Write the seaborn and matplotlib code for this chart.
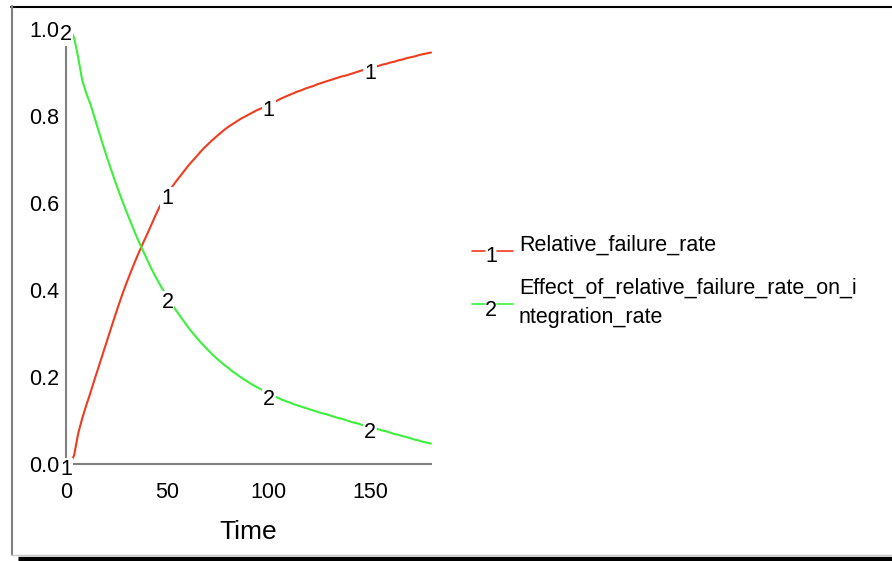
import numpy as np
import pandas as pd
import matplotlib
matplotlib.use("Agg")
import matplotlib.pyplot as plt
from matplotlib.lines import Line2D
import seaborn as sns

# Simulation output, saved every 2 time units
time = list(range(0, 181, 2))

relative_failure_rate = [
    0.000, 0.000, 0.020, 0.070, 0.105, 0.135, 0.163, 0.193, 0.222, 0.251,
    0.280, 0.309, 0.338, 0.366, 0.393, 0.418, 0.442, 0.465, 0.487, 0.508,
    0.528, 0.549, 0.570, 0.590, 0.607, 0.622, 0.635, 0.648, 0.660, 0.672,
    0.684, 0.695, 0.705, 0.716, 0.726, 0.735, 0.744, 0.752, 0.760, 0.768,
    0.775, 0.781, 0.787, 0.793, 0.798, 0.803, 0.808, 0.813, 0.817, 0.822,
    0.826, 0.831, 0.835, 0.840, 0.844, 0.848, 0.852, 0.856, 0.859, 0.863,
    0.866, 0.869, 0.873, 0.876, 0.879, 0.882, 0.885, 0.888, 0.891, 0.893,
    0.896, 0.899, 0.902, 0.905, 0.907, 0.910, 0.913, 0.915, 0.918, 0.920,
    0.923, 0.925, 0.928, 0.930, 0.933, 0.935, 0.937, 0.940, 0.942, 0.944,
    0.946,
]

effect_on_integration_rate = [
    1.000, 1.000, 0.980, 0.935, 0.882, 0.852, 0.828, 0.798, 0.767, 0.737,
    0.708, 0.680, 0.653, 0.627, 0.602, 0.578, 0.555, 0.532, 0.510, 0.490,
    0.470, 0.450, 0.432, 0.415, 0.399, 0.384, 0.369, 0.355, 0.342, 0.329,
    0.316, 0.304, 0.293, 0.282, 0.272, 0.262, 0.253, 0.244, 0.236, 0.228,
    0.221, 0.213, 0.207, 0.200, 0.194, 0.188, 0.182, 0.177, 0.172, 0.167,
    0.162, 0.158, 0.153, 0.149, 0.145, 0.142, 0.138, 0.135, 0.132, 0.129,
    0.126, 0.123, 0.120, 0.117, 0.115, 0.112, 0.109, 0.106, 0.104, 0.101,
    0.098, 0.095, 0.093, 0.090, 0.088, 0.085, 0.082, 0.080, 0.077, 0.075,
    0.072, 0.069, 0.067, 0.064, 0.062, 0.059, 0.056, 0.054, 0.051, 0.049,
    0.047,
]

series_names = ["Relative_failure_rate",
                "Effect_of_relative_failure_rate_on_i\nntegration_rate"]
series_tags = ["1", "2"]
series_colors = ["#f03c1e", "#3cf03c"]
tag_times = [0, 50, 100, 150]

x_ticks = [0, 50, 100, 150]
y_ticks = [0.0, 0.2, 0.4, 0.6, 0.8, 1.0]

sns.set_theme(style="white")
plt.rcParams["font.family"] = ["Liberation Sans", "DejaVu Sans"]

W, H = 892, 561
fig = plt.figure(figsize=(W / 100, H / 100), dpi=100)
fig.patch.set_facecolor("white")

def fx(px):
    return px / W

def fy(py):
    return 1 - py / H

ax = fig.add_axes([fx(66), fy(464), fx(431) - fx(66), fy(29) - fy(464)])

df = pd.DataFrame({
    "Time": time,
    series_names[0]: relative_failure_rate,
    series_names[1]: effect_on_integration_rate,
})

for name, color in zip(series_names, series_colors):
    sns.lineplot(data=df, x="Time", y=name, ax=ax, color=color,
                 linewidth=1.5, zorder=2, clip_on=False)

# numbered tags along each curve
for name, tag in zip(series_names, series_tags):
    for t in tag_times:
        v = df.loc[df["Time"] == t, name].iloc[0]
        ax.annotate(tag, (t, v), xytext=(0, -4), textcoords="offset points",
                    ha="center", va="center", fontsize=15.5, color="black",
                    zorder=5, annotation_clip=False,
                    bbox=dict(boxstyle="square,pad=0.05", fc="white", ec="none"))

ax.set_xlim(0, 180)
ax.set_ylim(0, 1.0)
ax.set_xticks(x_ticks)
ax.set_yticks(y_ticks)
ax.set_xticklabels([str(v) for v in x_ticks])
ax.set_yticklabels([f"{v:.1f}" for v in y_ticks])
ax.set_ylabel("")
ax.set_xlabel("Time", fontsize=19, labelpad=12, color="black")

for side in ["top", "right"]:
    ax.spines[side].set_visible(False)
for side in ["left", "bottom"]:
    ax.spines[side].set_color("#808080")
    ax.spines[side].set_linewidth(1.5)

ax.tick_params(axis="y", direction="inout", length=10, width=0.9,
               color="#202020", pad=0, labelsize=15.5, labelcolor="black")
ax.tick_params(axis="x", direction="inout", length=9.5, width=0.9,
               color="#202020", pad=8.5, labelsize=15.5, labelcolor="black")
ax.set_facecolor("white")

# legend: line-tag-line key followed by the variable name
key_rows = [(251, 257, [245]), (304, 311, [288, 317])]
for (ly, ty, text_rows), name, tag, color in zip(key_rows, series_names,
                                                series_tags, series_colors):
    fig.add_artist(Line2D([fx(472), fx(485)], [fy(ly), fy(ly)],
                          color=color, lw=1.2))
    fig.add_artist(Line2D([fx(497), fx(513)], [fy(ly), fy(ly)],
                          color=color, lw=1.2))
    fig.text(fx(491), fy(ty), tag, ha="center", va="center", fontsize=15.5,
             color="black")
    for row_y, part in zip(text_rows, name.split("\n")):
        fig.text(fx(519), fy(row_y), part, ha="left", va="center",
                 fontsize=15.5, color="black")

# window frame with drop shadow
fig.add_artist(Line2D([fx(11), fx(892)], [fy(6.5), fy(6.5)],
                      color="black", lw=1.5))
fig.add_artist(Line2D([fx(11.5), fx(11.5)], [fy(6), fy(555)],
                      color="#808080", lw=1.5))
fig.add_artist(Line2D([fx(11), fx(892)], [fy(555), fy(555)],
                      color="#c8c8c8", lw=1))
fig.add_artist(Line2D([fx(18), fx(892)], [fy(558.5), fy(558.5)],
                      color="black", lw=3.8, solid_capstyle="butt"))

fig.savefig("out.png", dpi=100, facecolor="white")
